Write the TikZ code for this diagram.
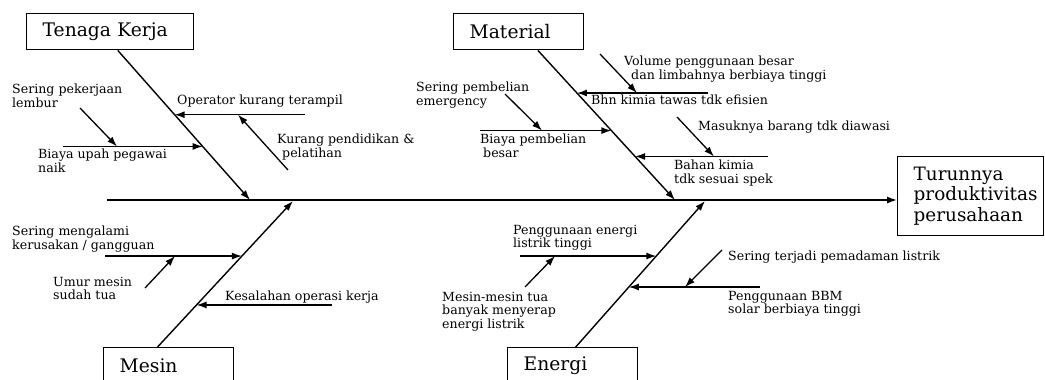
\documentclass[tikz,border=0pt]{standalone}
\usepackage{fontspec}
\setmainfont{DejaVu Serif}
\usetikzlibrary{arrows.meta, calc}
\tikzset{
    kategori/.style={draw, line width=1.4pt, anchor=north west, align=left, text width=#1,
                     inner xsep=16pt, inner ysep=0pt, minimum height=36pt,
                     font=\fontsize{18.7}{21}\selectfont},
    akibat/.style={draw, line width=1.4pt, anchor=north west, align=left, text width=114pt,
                   inner xsep=16pt, minimum height=79pt, font=\fontsize{18.4}{20.5}\selectfont},
    sebab/.style={anchor=north west, align=left, inner sep=0pt, font=\fontsize{12.6}{13.3}\selectfont},
    tulang/.style={->, line width=1.4pt},
    panah/.style={->, line width=1.3pt}
}

\begin{document}
\begin{tikzpicture}[x=1pt, y=-1pt, >={Latex[length=10pt,width=7pt]}]
    \useasboundingbox (0,0) rectangle (1045,380);

    \node[akibat] (akibat) at (897,156) {Turunnya\\produktivitas\\perusahaan};
    \coordinate (ekor) at (107,200);
    \draw[tulang] (ekor) -- (ekor -| akibat.west);

    \node[kategori=135pt] (tenaga)   at (26,13)  {Tenaga Kerja};
    \node[kategori=98pt]  (material) at (453,13) {Material};
    \node[kategori=98pt]  (mesin)    at (103,347) {Mesin};
    \node[kategori=98pt]  (energi)   at (507,347) {Energi};

    \coordinate (tenagaA)   at ($(tenaga.south west)!0.545!(tenaga.south east)$);
    \coordinate (tenagaB)   at (250,200);
    \coordinate (materialA) at ($(material.south west)!0.646!(material.south east)$);
    \coordinate (materialB) at (675,200);
    \coordinate (mesinA)    at ($(mesin.north west)!0.415!(mesin.north east)$);
    \coordinate (mesinB)    at (293,201);
    \coordinate (energiA)   at ($(energi.north west)!0.523!(energi.north east)$);
    \coordinate (energiB)   at (705,201);

    \draw[tulang] (tenagaA) -- (tenagaB);
    \draw[tulang] (materialA) -- (materialB);
    \draw[tulang] (mesinA) -- (mesinB);
    \draw[tulang] (energiA) -- (energiB);

    % tenaga kerja
    \coordinate (t1) at ($(tenagaA)!0.430!(tenagaB)$);
    \coordinate (t2) at ($(tenagaA)!0.642!(tenagaB)$);
    \draw[panah] (305,0 |- t1) -- (t1);
    \draw[panah] (63,0 |- t2) -- (t2);
    \coordinate (t3) at (288,170);  \coordinate (t4) at (238,0 |- t1);
    \coordinate (t5) at (80,108);   \coordinate (t6) at (117,0 |- t2);
    \draw[panah] (t3) -- (t4);
    \draw[panah] (t5) -- (t6);
    \node[sebab] (operator) at (177,95)  {Operator kurang terampil};
    \node[sebab] (didik)    at (277,134) {Kurang pendidikan \&\\\hspace{5pt}pelatihan};
    \node[sebab] (upah)     at (38,149)  {Biaya upah pegawai\\naik};
    \node[sebab] (lembur)   at (12,84)   {Sering pekerjaan\\lembur};

    % material
    \coordinate (m1) at ($(materialA)!0.285!(materialB)$);
    \coordinate (m2) at ($(materialA)!0.536!(materialB)$);
    \coordinate (m3) at ($(materialA)!0.709!(materialB)$);
    \draw[panah] (708,0 |- m1) -- (m1);
    \draw[panah] (480,0 |- m2) -- (m2);
    \draw[panah] (768,0 |- m3) -- (m3);
    \coordinate (m4) at (600,54);  \coordinate (m5) at (637,0 |- m1);
    \coordinate (m6) at (505,94);  \coordinate (m7) at (542,0 |- m2);
    \coordinate (m8) at (677,117); \coordinate (m9) at (714,0 |- m3);
    \draw[panah] (m4) -- (m5);
    \draw[panah] (m6) -- (m7);
    \draw[panah] (m8) -- (m9);
    \node[sebab] (volume)    at (624,56)  {Volume penggunaan besar\\\hspace{7pt}dan limbahnya berbiaya tinggi};
    \node[sebab] (tawas)     at (591,95)  {Bhn kimia tawas tdk efisien};
    \node[sebab] (emergency) at (416,82)  {Sering pembelian\\emergency};
    \node[sebab] (beli)      at (480,134) {Biaya pembelian\\\hspace{3pt}besar};
    \node[sebab] (diawasi)   at (698,121) {Masuknya barang tdk diawasi};
    \node[sebab] (spek)      at (674,160) {Bahan kimia\\tdk sesuai spek};

    % mesin
    \coordinate (s1) at ($(mesinA)!0.623!(mesinB)$);
    \coordinate (s2) at ($(mesinA)!0.288!(mesinB)$);
    \draw[panah] (105,0 |- s1) -- (s1);
    \draw[panah] (332,0 |- s2) -- (s2);
    \coordinate (s3) at (145,288); \coordinate (s4) at (175,0 |- s1);
    \draw[panah] (s3) -- (s4);
    \node[sebab] (rusak)     at (12,226)  {Sering mengalami\\kerusakan / gangguan};
    \node[sebab] (umur)      at (53,277)  {Umur mesin\\sudah tua};
    \node[sebab] (kesalahan) at (225,291) {Kesalahan operasi kerja};

    % energi
    \coordinate (e1) at ($(energiA)!0.623!(energiB)$);
    \coordinate (e2) at ($(energiA)!0.411!(energiB)$);
    \draw[panah] (520,0 |- e1) -- (e1);
    \draw[panah] (760,0 |- e2) -- (e2);
    \coordinate (e3) at (525,287); \coordinate (e4) at (555,0 |- e1);
    \coordinate (e5) at (722,250); \coordinate (e6) at (685,0 |- e2);
    \draw[panah] (e3) -- (e4);
    \draw[panah] (e5) -- (e6);
    \node[sebab] (listrik) at (513,225) {Penggunaan energi\\listrik tinggi};
    \node[sebab] (tua)     at (442,292) {Mesin-mesin tua\\banyak menyerap\\energi listrik};
    \node[sebab] (padam)   at (728,251) {Sering terjadi pemadaman listrik};
    \node[sebab] (bbm)     at (728,291) {Penggunaan BBM\\solar berbiaya tinggi};
\end{tikzpicture}
\end{document}
